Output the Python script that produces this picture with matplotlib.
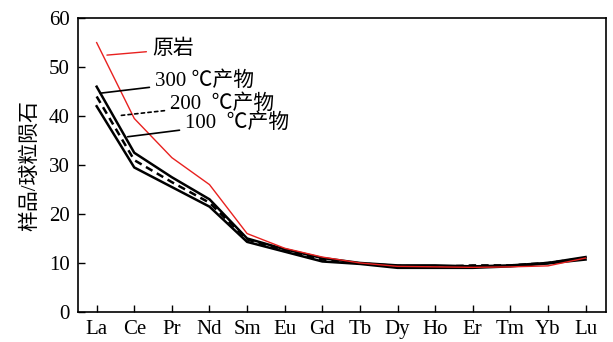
import matplotlib
matplotlib.use("Agg")
import matplotlib.pyplot as plt

plt.rcParams['font.family'] = ['Liberation Serif', 'Noto Sans CJK SC', 'DejaVu Sans']

# REE patterns normalised to chondrite
elements = ["La", "Ce", "Pr", "Nd", "Sm", "Eu", "Gd", "Tb", "Dy", "Ho", "Er", "Tm", "Yb", "Lu"]
protolith = [55, 39.5, 31.5, 26, 16, 13, 11.2, 10, 9.3, 9.2, 9.1, 9.2, 9.4, 11]
t300 = [46, 32.5, 27.5, 23, 15, 12.8, 11, 10, 9.5, 9.5, 9.3, 9.5, 10, 11.2]
t200 = [44, 31, 26.5, 22.3, 14.8, 12.5, 10.7, 9.9, 9.4, 9.2, 9.5, 9.5, 10, 11]
t100 = [42, 29.5, 25.5, 21.5, 14.3, 12.3, 10.3, 9.8, 9, 9, 9, 9.3, 9.9, 10.7]

x = list(range(len(elements)))

fig, ax = plt.subplots(figsize=(6.13, 3.42), dpi=100)
fig.subplots_adjust(left=0.127, right=0.989, top=0.947, bottom=0.088)

ax.plot(x, t300, color="black", lw=1.8)
ax.plot(x, t200, color="black", lw=1.8, ls=(0, (3, 2)))
ax.plot(x, t100, color="black", lw=1.8)
ax.plot(x, protolith, color="#e8211f", lw=1.0)

ax.set_xlim(-0.5, 13.55)
ax.set_ylim(0, 60)
ax.set_yticks(range(0, 61, 10))
ax.set_xticks(x)
ax.set_xticklabels(elements)
ax.tick_params(direction="in", length=5, width=1, labelsize=15, pad=6)
ax.set_ylabel("样品/球粒陨石", fontsize=15, labelpad=6)
for s in ax.spines.values():
    s.set_linewidth(1.2)

# labels with leader lines
lab = dict(fontsize=15, va="center", ha="left")
ax.annotate("原岩", xy=(0.2, 52.4), xytext=(1.47, 53.6),
            arrowprops=dict(arrowstyle="-", color="#e8211f", lw=1), **lab)
ax.annotate("300 ℃产物", xy=(0.02, 44.6), xytext=(1.55, 47.2),
            arrowprops=dict(arrowstyle="-", color="black", lw=1.2), **lab)
ax.annotate("200  ℃产物", xy=(0.5, 40.0), xytext=(1.95, 42.4),
            arrowprops=dict(arrowstyle="-", color="black", lw=1.2, ls=(0, (2, 2))), **lab)
ax.annotate("100  ℃产物", xy=(0.75, 35.7), xytext=(2.35, 38.6),
            arrowprops=dict(arrowstyle="-", color="black", lw=1.2), **lab)

fig.savefig("out.png", dpi=100)
